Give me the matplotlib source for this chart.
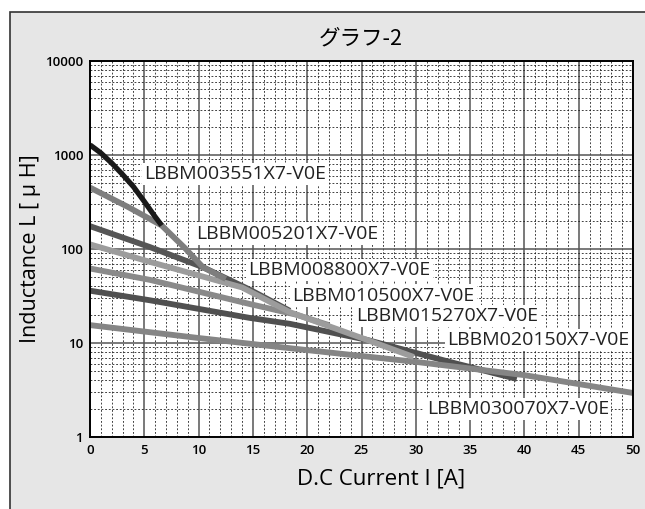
import numpy as np
import matplotlib.pyplot as plt
from matplotlib.patches import Rectangle
from matplotlib.ticker import FixedLocator, NullFormatter

plt.rcParams['font.family'] = ['Open Sans', 'Noto Sans CJK JP', 'DejaVu Sans']

# curve data: DC current [A] vs inductance [uH]
names = ['LBBM003551X7-V0E', 'LBBM005201X7-V0E', 'LBBM008800X7-V0E',
         'LBBM010500X7-V0E', 'LBBM015270X7-V0E', 'LBBM020150X7-V0E',
         'LBBM030070X7-V0E']

x_003551 = [0, 1, 2, 3, 4, 5, 6, 6.6]
L_003551 = [1280, 1050, 820, 620, 460, 320, 220, 178]

x_005201 = [0, 3.5, 6.6, 8.75, 10.4, 12.5]
L_005201 = [450, 280, 178, 102, 64, 48]

x_008800 = [0, 5.5, 10.4, 14.7, 18.4]
L_008800 = [175, 105, 64, 37, 22]

x_010500 = [0, 5.5, 14, 18.4, 25.5, 29.8]
L_010500 = [112, 73, 39, 21.3, 10.8, 7.1]

x_015270 = [0, 5.5, 14.7, 19, 22]
L_015270 = [62, 47, 26, 20, 15.5]

x_020150 = [0, 5.5, 14.7, 18.4, 25.5, 33.1, 39.3]
L_020150 = [36, 28.5, 18.5, 16, 10.8, 6.3, 4.15]

x_030070 = [0, 10, 20, 30, 40, 50]
L_030070 = [15.5, 11.3, 8.4, 6.3, 4.55, 2.94]

# label anchor points (left edge of text) in data coords
label_x = [5.0, 9.8, 14.6, 18.6, 24.5, 32.9, 31.0]
label_y = [630, 145, 60, 32, 19.4, 10.8, 1.98]

fig = plt.figure(figsize=(6.45, 5.09), dpi=100, facecolor='white')
# grey panel with dark frame
fig.patches.append(Rectangle((10 / 645, -0.05), 1.0, 1 - 12 / 509 + 0.05,
                             transform=fig.transFigure, facecolor='#e6e6e6',
                             edgecolor='#333333', linewidth=1.2, zorder=-10))

ax = fig.add_axes([90 / 645, 1 - 437 / 509, 543 / 645, 376 / 509])
ax.set_facecolor('white')
ax.set_yscale('log')
ax.set_xlim(0, 50)
ax.set_ylim(1, 10000)

# grid: solid majors, dashed minors
ax.xaxis.set_major_locator(FixedLocator(np.arange(0, 51, 5)))
ax.xaxis.set_minor_locator(FixedLocator(np.arange(0, 51, 1)))
ax.yaxis.set_major_locator(FixedLocator([1, 10, 100, 1000, 10000]))
ax.yaxis.set_minor_locator(FixedLocator([m * 10 ** e for e in range(4) for m in range(2, 10)]))
ax.yaxis.set_minor_formatter(NullFormatter())
ax.set_yticklabels(['1', '10', '100', '1000', '10000'])
ax.grid(which='minor', color='#222222', linestyle=(0, (2.2, 2.2)), linewidth=0.6)
ax.grid(which='major', color='#555555', linestyle='-', linewidth=1.1)
ax.set_axisbelow(True)
ax.tick_params(which='both', length=0, labelsize=9.5, pad=5)
for lab in ax.get_xticklabels() + ax.get_yticklabels():
    lab.set_fontweight('semibold')
for s in ax.spines.values():
    s.set_color('black')
    s.set_linewidth(1.4)

lw = 4.2
ax.plot(x_020150, L_020150, color='#505050', lw=lw, solid_capstyle='butt')
ax.plot(x_008800, L_008800, color='#555555', lw=lw, solid_capstyle='butt')
ax.plot(x_015270, L_015270, color='#8a8a8a', lw=lw, solid_capstyle='butt')
ax.plot(x_030070, L_030070, color='#858585', lw=lw, solid_capstyle='butt')
ax.plot(x_010500, L_010500, color='#9c9c9c', lw=lw, solid_capstyle='butt')
ax.plot(x_005201, L_005201, color='#7e7e7e', lw=lw, solid_capstyle='butt')
ax.plot(x_003551, L_003551, color='#1a1a1a', lw=3.8, solid_capstyle='butt')

for name, lx, ly in zip(names, label_x, label_y):
    ax.text(lx, ly, name, fontsize=14, color='#222222', ha='left', va='center',
            bbox=dict(boxstyle='square,pad=0.12', fc='white', ec='none'), zorder=5)

ax.set_xlabel('D.C Current I [A]', fontsize=16)
ax.xaxis.set_label_coords(0.536, -0.085)
ax.set_ylabel('Inductance L [ μ H]', fontsize=15.5, labelpad=2.5)
fig.text(361 / 645, 1 - 38 / 509, 'グラフ-2', fontsize=15.5, ha='center', va='center',
         family=['Noto Sans CJK JP', 'DejaVu Sans'])

fig.savefig('out.png', dpi=100)
